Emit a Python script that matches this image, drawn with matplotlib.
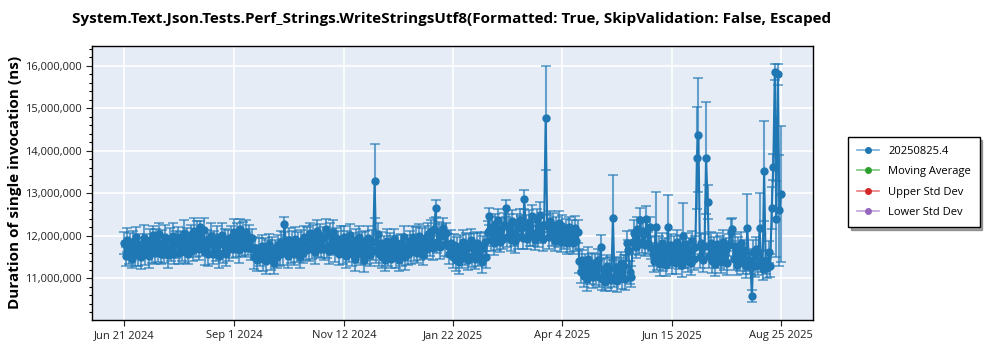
import datetime as dt
import numpy as np
import pandas as pd
import matplotlib
matplotlib.use("Agg")
import matplotlib.pyplot as plt
import matplotlib.dates as mdates
from matplotlib.ticker import FuncFormatter, MultipleLocator
from matplotlib.lines import Line2D

plt.rcParams['font.family'] = ['Open Sans', 'DejaVu Sans']

title = ("System.Text.Json.Tests.Perf_Strings.WriteStringsUtf8(Formatted: True, "
         "SkipValidation: False, Escaped")
ylabel = "Duration of single invocation (ns)"
legend_names = ["20250825.4", "Moving Average", "Upper Std Dev", "Lower Std Dev"]

# one run per day, Jun 21 2024 .. Aug 25 2025
dates = pd.date_range("2024-06-21", "2025-08-25", freq="D")

# duration, millions of ns (10 days per row)
values = [
    11.82, 11.52, 11.90, 11.58, 11.76, 11.45, 11.86, 11.60, 11.98, 11.55,
    11.80, 11.50, 11.72, 11.95, 11.58, 11.80, 11.52, 11.90, 11.64, 12.02,
    11.60, 11.92, 11.66, 12.05, 11.56, 11.84, 11.62, 11.98, 11.70, 11.54,
    11.90, 11.64, 12.00, 11.58, 11.80, 11.96, 11.60, 11.88, 11.66, 12.06,
    11.62, 11.90, 11.56, 11.82, 12.02, 11.66, 12.12, 11.72, 12.06, 11.68,
    12.20, 11.76, 12.14, 11.62, 11.90, 11.56, 11.82, 12.00, 11.58, 11.86,
    11.66, 11.94, 11.52, 11.80, 12.02, 11.60, 11.86, 11.56, 11.92, 11.68,
    11.96, 11.70, 12.10, 11.76, 12.02, 11.66, 12.16, 11.80, 12.06, 11.72,
    12.10, 11.78, 11.98, 11.68, 11.94, 11.50, 11.72, 11.42, 11.66, 11.52,
    11.76, 11.46, 11.70, 11.40, 11.64, 11.80, 11.48, 11.72, 11.36, 11.66,
    11.50, 11.78, 11.58, 11.86, 11.62, 12.27, 11.74, 11.52, 11.90, 11.60,
    11.84, 11.56, 11.92, 11.62, 11.80, 11.50, 11.88, 11.60, 11.96, 11.66,
    11.94, 11.68, 12.06, 11.72, 12.00, 11.62, 12.12, 11.76, 12.02, 11.70,
    11.96, 11.70, 12.16, 11.74, 11.64, 12.04, 11.78, 12.10, 11.66, 11.94,
    11.84, 11.56, 11.92, 11.60, 11.98, 11.52, 11.86, 11.64, 12.02, 11.58,
    11.80, 11.46, 11.90, 11.62, 11.96, 11.56, 11.82, 11.44, 11.88, 11.60,
    11.94, 11.54, 11.86, 11.66, 13.29, 11.64, 12.04, 11.56, 11.84, 11.50,
    11.76, 11.42, 11.88, 11.54, 11.80, 11.46, 11.70, 11.92, 11.52, 11.78,
    11.44, 11.82, 11.56, 11.96, 11.50, 11.76, 11.58, 11.88, 11.62, 11.98,
    11.66, 11.92, 11.60, 12.00, 11.68, 11.88, 11.54, 11.94, 11.70, 12.04,
    11.78, 12.12, 11.72, 12.16, 12.65, 11.86, 12.08, 11.74, 12.02, 12.18,
    11.80, 12.06, 11.76, 11.58, 11.84, 11.50, 11.78, 11.44, 11.74, 11.38,
    11.76, 11.48, 11.86, 11.56, 11.80, 11.42, 11.74, 11.90, 11.52, 11.78,
    11.46, 11.82, 11.54, 11.76, 11.38, 11.72, 11.86, 11.50, 12.10, 12.46,
    11.90, 12.20, 11.84, 12.28, 11.94, 12.36, 11.86, 12.16, 11.92, 12.26,
    12.65, 11.98, 12.24, 11.90, 12.34, 12.02, 11.88, 12.28, 11.96, 12.37,
    12.18, 11.94, 12.86, 12.22, 11.92, 12.32, 12.00, 12.46, 12.04, 11.90,
    12.36, 11.98, 12.50, 12.08, 11.92, 12.26, 14.77, 12.24, 11.96, 12.34,
    12.02, 12.26, 11.88, 12.18, 11.98, 12.30, 11.86, 12.22, 11.94, 12.16,
    11.84, 12.20, 11.90, 12.12, 11.82, 12.18, 11.88, 12.10, 11.40, 11.14,
    11.42, 11.06, 11.34, 10.98, 11.46, 11.12, 11.36, 11.02, 11.30, 11.08,
    11.44, 11.04, 11.73, 10.98, 11.20, 10.92, 11.28, 11.00, 11.24, 10.96,
    12.42, 11.04, 11.26, 10.94, 11.20, 11.36, 11.02, 11.30, 10.98, 11.83,
    11.66, 11.14, 11.04, 11.86, 12.06, 11.74, 12.16, 11.80, 12.36, 11.86,
    12.12, 11.78, 12.40, 11.84, 12.20, 11.72, 11.56, 11.40, 12.20, 11.48,
    11.74, 11.34, 11.82, 11.44, 11.70, 11.32, 12.20, 11.50, 11.78, 11.38,
    11.72, 11.36, 11.86, 11.46, 11.76, 11.32, 12.00, 11.48, 11.80, 11.40,
    11.70, 11.36, 11.88, 11.46, 11.74, 13.83, 14.37, 11.50, 11.82, 11.42,
    11.76, 13.83, 12.80, 11.52, 11.84, 11.40, 11.74, 11.34, 11.80, 11.48,
    11.72, 11.38, 11.86, 11.44, 11.68, 11.36, 11.78, 12.10, 12.15, 11.46,
    11.76, 11.32, 11.70, 11.42, 11.82, 11.36, 11.66, 11.28, 12.18, 11.42,
    11.34, 10.58, 11.62, 11.28, 11.70, 11.32, 12.18, 11.40, 11.22, 13.52,
    11.38, 11.24, 11.62, 11.30, 12.65, 13.62, 15.86, 12.40, 15.80, 12.60,
    12.98,
]

# std dev, millions of ns
errors = [
    .26, .22, .28, .24, .30, .21, .26, .32, .23, .27,
    .24, .28, .22, .31, .26, .23, .29, .25, .27, .21,
    .26, .24, .28, .24, .22, .30, .25, .27, .23, .29,
    .28, .23, .31, .25, .32, .24, .27, .22, .26, .30,
    .25, .29, .23, .27, .24, .26, .30, .22, .28, .25,
    .14, .24, .28, .30, .23, .27, .25, .29, .24, .26,
    .25, .29, .27, .23, .28, .24, .30, .26, .22, .28,
    .26, .23, .29, .25, .27, .31, .24, .28, .26, .23,
    .27, .24, .28, .26, .23, .29, .26, .25, .28, .24,
    .25, .28, .24, .30, .26, .23, .29, .25, .27, .24,
    .26, .24, .28, .25, .30, .18, .24, .27, .29, .25,
    .27, .25, .29, .24, .28, .26, .25, .25, .28, .24,
    .26, .28, .24, .27, .25, .29, .24, .27, .26, .23,
    .24, .26, .23, .27, .30, .25, .24, .26, .28, .25,
    .28, .25, .30, .26, .24, .27, .26, .26, .25, .28,
    .26, .28, .25, .27, .27, .24, .26, .29, .24, .27,
    .28, .25, .27, .24, .86, .29, .25, .26, .25, .27,
    .24, .26, .29, .25, .27, .23, .30, .25, .28, .24,
    .27, .23, .28, .26, .30, .25, .27, .24, .29, .26,
    .25, .28, .24, .27, .26, .30, .23, .28, .25, .27,
    .26, .24, .28, .25, .20, .27, .24, .29, .26, .25,
    .28, .25, .27, .24, .29, .26, .25, .28, .24, .27,
    .26, .24, .28, .25, .27, .23, .29, .25, .26, .28,
    .25, .27, .24, .30, .26, .28, .23, .27, .25, .20,
    .27, .25, .29, .24, .28, .26, .25, .27, .24, .28,
    .20, .24, .28, .25, .27, .26, .29, .24, .27, .25,
    .28, .26, .22, .27, .24, .29, .25, .26, .28, .24,
    .27, .25, .29, .24, .28, .26, 1.23, .25, .28, .24,
    .26, .28, .24, .27, .25, .29, .24, .27, .26, .23,
    .27, .25, .28, .24, .26, .29, .25, .27, .28, .25,
    .24, .26, .23, .27, .28, .25, .24, .26, .28, .25,
    .26, .24, .28, .25, .27, .23, .26, .24, .27, .25,
    1.00, .25, .24, .26, .28, .25, .27, .24, .26, .28,
    .25, .27, .24, .28, .30, .26, .28, .25, .29, .27,
    .28, .25, .30, .26, .24, .27, .26, .25, .83, .28,
    .26, .28, .25, .27, .24, .26, .76, .27, .25, .28,
    .27, .25, .28, .24, .26, .29, .77, .25, .27, .26,
    .25, .28, .24, .27, .26, 1.20, 1.35, .27, .25, .28,
    .27, 1.32, .40, .28, .25, .27, .24, .29, .26, .25,
    .28, .25, .27, .24, .26, .29, .25, .30, .28, .26,
    .27, .25, .28, .24, .26, .27, .25, .28, .80, .26,
    .25, .15, .28, .25, .27, .24, .82, .26, .25, 1.18,
    .27, .24, .26, .28, .50, .30, .19, .90, .25, 1.30,
    1.60,
]

tick_dates = ["2024-06-21", "2024-09-01", "2024-11-12", "2025-01-22",
              "2025-04-04", "2025-06-15", "2025-08-25"]

blue = "#1f77b4"
legend_colors = ["#1f77b4", "#2ca02c", "#d62728", "#9467bd"]

fig = plt.figure(figsize=(10, 3.5), dpi=100)
ax = fig.add_axes([0.092, 0.086, 0.721, 0.783])
ax.set_facecolor("#e5ecf6")

y = np.array(values) * 1e6
e = np.array(errors) * 1e6
ax.errorbar(dates, y, yerr=e, fmt="o-", color=blue, ms=5, lw=1.5,
            ecolor=(0.12, 0.47, 0.71, 0.65), elinewidth=1.5, capsize=3.5,
            capthick=1.3, zorder=3)

ax.set_xlim(dt.datetime(2024, 5, 31), dt.datetime(2025, 9, 15))
ax.set_ylim(10.02e6, 16.47e6)

ax.yaxis.set_major_locator(MultipleLocator(1e6))
ax.yaxis.set_minor_locator(MultipleLocator(2e5))
ax.yaxis.set_major_formatter(FuncFormatter(lambda v, p: f"{int(round(v)):,}"))
ax.set_xticks([mdates.date2num(pd.Timestamp(d)) for d in tick_dates])
ax.xaxis.set_major_formatter(FuncFormatter(
    lambda v, p: (lambda d: f"{d:%b} {d.day} {d.year}")(mdates.num2date(v))))

ax.grid(True, which="major", color="white", lw=1.2)
ax.set_axisbelow(True)
ax.tick_params(axis="both", which="major", labelsize=8, colors="#222222",
               length=4, width=0.8)
ax.tick_params(axis="y", which="minor", length=2.5, width=0.8)
for s in ax.spines.values():
    s.set_color("black")
    s.set_linewidth(1)

ax.set_ylabel(ylabel, fontsize=11, fontweight="bold")
ax.yaxis.set_label_coords(-0.097, 0.5)
fig.text(0.072, 0.946, title, fontsize=11, fontweight="bold", ha="left", va="center")

handles = [Line2D([], [], color=matplotlib.colors.to_rgba(c, 0.6), lw=1.2,
                  marker="o", ms=4, markerfacecolor=c, markeredgecolor=c)
           for c in legend_colors]
leg = fig.legend(handles, legend_names, loc="upper left",
                 bbox_to_anchor=(0.848, 0.609), borderaxespad=0, fontsize=8,
                 frameon=True, fancybox=False, shadow=True, edgecolor="black",
                 handlelength=2, borderpad=0.8, labelspacing=0.85)
leg.get_frame().set_linewidth(1)

fig.savefig("out.png", dpi=100)
